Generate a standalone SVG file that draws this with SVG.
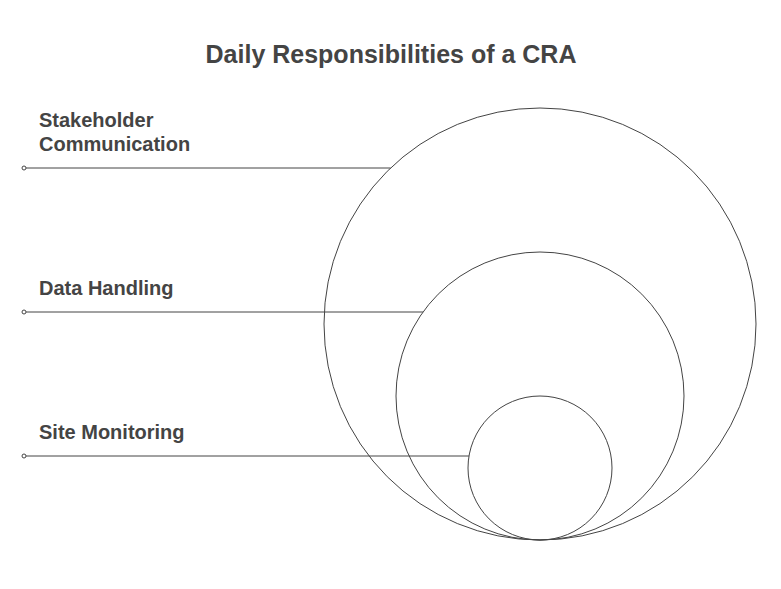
<svg xmlns="http://www.w3.org/2000/svg" width="781" height="589" viewBox="0 0 781 589">
<style>
.t{font-family:"Liberation Sans",Arial,sans-serif;font-weight:bold;fill:#444444}
.c{fill:none;stroke:#444444;stroke-width:1}
.l{stroke:#444444;stroke-width:1;fill:none}
.d{fill:#ffffff;stroke:#444444;stroke-width:1}
</style>
<rect width="781" height="589" fill="#ffffff"/>
<text class="t" x="391" y="63" font-size="25" text-anchor="middle">Daily Responsibilities of a CRA</text>
<g id="stakeholder-communication">
<circle class="c" cx="540" cy="324" r="216"/>
<text class="t" x="39" y="127" font-size="20">Stakeholder</text>
<text class="t" x="39" y="151" font-size="20">Communication</text>
</g>
<g id="data-handling">
<circle class="c" cx="540" cy="396" r="144"/>
<text class="t" x="39" y="295" font-size="20">Data Handling</text>
</g>
<g id="site-monitoring">
<circle class="c" cx="540" cy="468" r="72"/>
<text class="t" x="39" y="439" font-size="20">Site Monitoring</text>
</g>
<g id="connectors">
<line class="l" x1="26" y1="168" x2="390.6" y2="168"/>
<circle class="d" cx="24" cy="168" r="2"/>
<line class="l" x1="26" y1="312" x2="423" y2="312"/>
<circle class="d" cx="24" cy="312" r="2"/>
<line class="l" x1="26" y1="456" x2="469" y2="456"/>
<circle class="d" cx="24" cy="456" r="2"/>
</g>
</svg>
